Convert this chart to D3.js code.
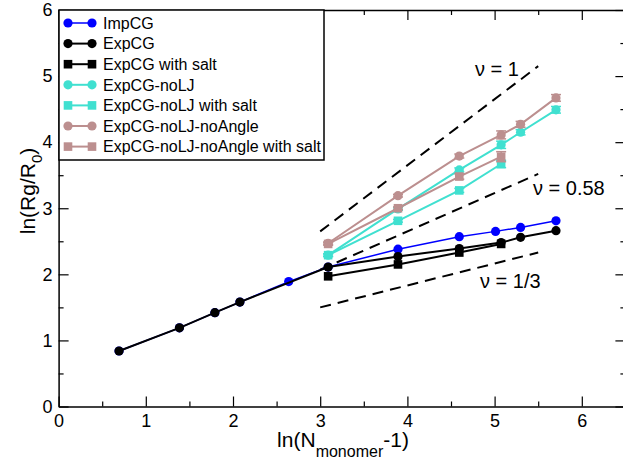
<!DOCTYPE html>
<html><head><meta charset="utf-8">
<script src="https://cdn.jsdelivr.net/npm/d3@7"></script>
<style>
html,body{margin:0;padding:0;background:#fff;}
svg{display:block;font-family:"Liberation Sans",Arial,sans-serif;}
</style>
</head><body>
<svg id="chart" width="623" height="463"></svg>
<script>
// ---- data ----
const xTickVals = [0, 1, 2, 3, 4, 5, 6];
const yTickVals = [0, 1, 2, 3, 4, 5, 6];
const xMinorVals = [0.5, 1.5, 2.5, 3.5, 4.5, 5.5, 6.5];
const yMinorVals = [0.5, 1.5, 2.5, 3.5, 4.5, 5.5];

const xImp = [0.693, 1.386, 1.792, 2.079, 2.639, 3.091, 3.892, 4.595, 5.011, 5.298, 5.704];
const yImp = [0.84, 1.19, 1.42, 1.58, 1.89, 2.11, 2.38, 2.57, 2.65, 2.71, 2.81];

const xExp = [0.693, 1.386, 1.792, 2.079, 3.091, 3.892, 4.595, 5.075, 5.298, 5.704];
const yExp = [0.84, 1.19, 1.42, 1.58, 2.11, 2.27, 2.39, 2.48, 2.56, 2.66];

const xSalt = [3.091, 3.892, 4.595, 5.075];
const yExpSalt = [1.97, 2.15, 2.33, 2.46];

const xNoLJ = [3.091, 3.892, 4.595, 5.075, 5.298, 5.704];
const yNoLJ = [2.29, 2.99, 3.58, 3.96, 4.15, 4.49];
const eNoLJ = [0.02, 0.02, 0.03, 0.055, 0.04, 0.05];

const yNoLJSalt = [2.29, 2.81, 3.27, 3.67];
const eNoLJSalt = [0.02, 0.02, 0.03, 0.055];

const yNoAng = [2.47, 3.19, 3.79, 4.11, 4.27, 4.67];
const eNoAng = [0.02, 0.02, 0.03, 0.06, 0.045, 0.05];

const yNoAngSalt = [2.46, 3.00, 3.48, 3.78];
const eNoAngSalt = [0.02, 0.02, 0.04, 0.076];

const guideX = [3.0, 5.5];
const nu1Y = [2.65, 5.15];
const nu058Y = [2.07, 3.52];
const nu13Y = [1.50, 2.33];
const guideLabels = ["ν = 1", "ν = 0.58", "ν = 1/3"];

const seriesNames = ["ImpCG", "ExpCG", "ExpCG with salt", "ExpCG-noLJ", "ExpCG-noLJ with salt", "ExpCG-noLJ-noAngle", "ExpCG-noLJ-noAngle with salt"];
const seriesColors = ["#0000ff", "#000000", "#000000", "#40e0d0", "#40e0d0", "#bc8f8f", "#bc8f8f"];
const seriesShapes = ["circle", "circle", "square", "circle", "square", "circle", "square"];

const series = [
  {x: xImp, y: yImp, e: null},
  {x: xExp, y: yExp, e: null},
  {x: xSalt, y: yExpSalt, e: null},
  {x: xNoLJ, y: yNoLJ, e: eNoLJ},
  {x: xSalt, y: yNoLJSalt, e: eNoLJSalt},
  {x: xNoLJ, y: yNoAng, e: eNoAng},
  {x: xSalt, y: yNoAngSalt, e: eNoAngSalt}
].map((s, i) => ({...s, name: seriesNames[i], color: seriesColors[i], shape: seriesShapes[i]}));

// ---- layout ----
const svg = d3.select("#chart");
const x = d3.scaleLinear().domain([0, 6.5]).range([58.6, 625.4]);
const y = d3.scaleLinear().domain([0, 6]).range([406.5, 10]);

const axisColor = "#000";
function styleAxis(g){
  g.selectAll("path.domain").attr("stroke", axisColor).attr("stroke-width", 1.5);
  g.selectAll(".tick line").attr("stroke", axisColor).attr("stroke-width", 1.2);
}

// major axes
svg.append("g").attr("transform", `translate(0,${y(0)})`)
  .call(d3.axisBottom(x).tickValues(xTickVals).tickFormat(d3.format("d")).tickSizeInner(-10).tickSizeOuter(0).tickPadding(8))
  .call(styleAxis)
  .call(g => g.selectAll("text").attr("font-size", 18).attr("font-family", "Liberation Sans, Arial, sans-serif").attr("fill", "#000"));
svg.append("g").attr("transform", `translate(${x(0)},0)`)
  .call(d3.axisLeft(y).tickValues(yTickVals).tickFormat(d3.format("d")).tickSizeInner(-10).tickSizeOuter(0).tickPadding(6))
  .call(styleAxis)
  .call(g => g.selectAll("text").attr("font-size", 18).attr("font-family", "Liberation Sans, Arial, sans-serif").attr("fill", "#000"));
svg.append("g").attr("transform", `translate(0,${y(6)})`)
  .call(d3.axisTop(x).tickValues(xTickVals).tickFormat("").tickSizeInner(-10).tickSizeOuter(0))
  .call(styleAxis);
svg.append("g").attr("transform", `translate(${x(6.5)},0)`)
  .call(d3.axisRight(y).tickValues(yTickVals).tickFormat("").tickSizeInner(-10).tickSizeOuter(0))
  .call(styleAxis);
// minor ticks
svg.append("g").attr("transform", `translate(0,${y(0)})`)
  .call(d3.axisBottom(x).tickValues(xMinorVals).tickFormat("").tickSizeInner(-5).tickSizeOuter(0))
  .call(styleAxis).call(g => g.select("path.domain").remove());
svg.append("g").attr("transform", `translate(0,${y(6)})`)
  .call(d3.axisTop(x).tickValues(xMinorVals).tickFormat("").tickSizeInner(-5).tickSizeOuter(0))
  .call(styleAxis).call(g => g.select("path.domain").remove());
svg.append("g").attr("transform", `translate(${x(0)},0)`)
  .call(d3.axisLeft(y).tickValues(yMinorVals).tickFormat("").tickSizeInner(-5).tickSizeOuter(0))
  .call(styleAxis).call(g => g.select("path.domain").remove());
svg.append("g").attr("transform", `translate(${x(6.5)},0)`)
  .call(d3.axisRight(y).tickValues(yMinorVals).tickFormat("").tickSizeInner(-5).tickSizeOuter(0))
  .call(styleAxis).call(g => g.select("path.domain").remove());

// axis titles
const xt = svg.append("text").attr("x", 343).attr("y", 447).attr("text-anchor", "middle")
  .attr("font-size", 21).attr("fill", "#000");
xt.append("tspan").text("ln(N");
xt.append("tspan").attr("font-size", 16).attr("dy", 10).text("monomer");
xt.append("tspan").attr("dy", -10).text("-1)");

const yt = svg.append("text").attr("transform", "translate(35,191) rotate(-90)").attr("text-anchor", "middle")
  .attr("font-size", 21).attr("fill", "#000");
yt.append("tspan").text("ln(Rg/R");
yt.append("tspan").attr("font-size", 15).attr("dy", 7).text("0");
yt.append("tspan").attr("dy", -7).text(")");

// guide lines
const guides = [nu1Y, nu058Y, nu13Y];
const labelPos = [[475, 76], [533, 195], [480, 288]];
const line = d3.line().x(d => x(d[0])).y(d => y(d[1]));
guides.forEach((gy, i) => {
  svg.append("path").datum(guideX.map((gx, j) => [gx, gy[j]]))
    .attr("d", line).attr("fill", "none").attr("stroke", "#000").attr("stroke-width", 2)
    .attr("stroke-dasharray", "11,7");
  svg.append("text").attr("x", labelPos[i][0]).attr("y", labelPos[i][1])
    .attr("font-size", 20).attr("fill", "#000").text(guideLabels[i]);
});

// markers
function drawMarker(g, shape, cx, cy, color){
  if (shape === "circle") {
    g.append("circle").attr("cx", cx).attr("cy", cy).attr("r", 4.6).attr("fill", color);
  } else {
    g.append("rect").attr("x", cx - 4.3).attr("y", cy - 4.3).attr("width", 8.6).attr("height", 8.6).attr("fill", color);
  }
}

// series
series.forEach((s, i) => {
  const g = svg.append("g");
  const pts = s.x.map((xv, j) => [xv, s.y[j]]);
  g.append("path").datum(pts).attr("d", line).attr("fill", "none")
    .attr("stroke", s.color).attr("stroke-width", i === 0 ? 1.5 : 2);
  if (s.e) {
    pts.forEach((p, j) => {
      const e = s.e[j];
      const cx = x(p[0]);
      g.append("line").attr("x1", cx).attr("x2", cx).attr("y1", y(p[1] - e)).attr("y2", y(p[1] + e))
        .attr("stroke", s.color).attr("stroke-width", 1.5);
      [p[1] - e, p[1] + e].forEach(v => {
        g.append("line").attr("x1", cx - 5).attr("x2", cx + 5).attr("y1", y(v)).attr("y2", y(v))
          .attr("stroke", s.color).attr("stroke-width", 1.5);
      });
    });
  }
  pts.forEach(p => drawMarker(g, s.shape, x(p[0]), y(p[1]), s.color));
});

// legend
const leg = svg.append("g");
leg.append("rect").attr("x", 59).attr("y", 10).attr("width", 265).attr("height", 150)
  .attr("fill", "#fff").attr("stroke", "#000").attr("stroke-width", 1.5);
series.forEach((s, i) => {
  const cy = 23 + i * 20.6;
  leg.append("line").attr("x1", 68).attr("x2", 92).attr("y1", cy).attr("y2", cy)
    .attr("stroke", s.color).attr("stroke-width", i === 0 ? 1.5 : 2);
  drawMarker(leg, s.shape, 68, cy, s.color);
  drawMarker(leg, s.shape, 92, cy, s.color);
  leg.append("text").attr("x", 103).attr("y", cy).attr("dy", "0.36em")
    .attr("font-size", 16).attr("fill", "#000").text(s.name);
});
</script>
</body></html>
